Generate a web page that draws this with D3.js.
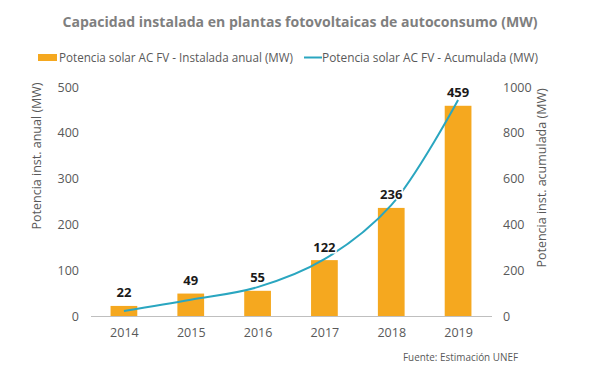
<!DOCTYPE html>
<html><head><meta charset="utf-8">
<script src="https://cdn.jsdelivr.net/npm/d3@7"></script>
<style>body{margin:0;background:#fff;} svg{display:block;font-family:"Open Sans",sans-serif;}</style>
</head><body><svg id="c" width="600" height="379"></svg>
<script>
const years = ["2014","2015","2016","2017","2018","2019"];
const annual = [22, 49, 55, 122, 236, 459];
const cumulative = [22, 71, 126, 248, 484, 943];
const leftTicks = [0,100,200,300,400,500];
const rightTicks = [0,200,400,600,800,1000];
const title = "Capacidad instalada en plantas fotovoltaicas de autoconsumo (MW)";
const legendBar = "Potencia solar AC FV - Instalada anual (MW)";
const legendLine = "Potencia solar AC FV - Acumulada (MW)";
const leftTitle = "Potencia inst. anual (MW)";
const rightTitle = "Potencia inst. acumulada (MW)";
const source = "Fuente: Estimación UNEF";

const barColor = "#F5A81F", lineColor = "#2AA6C0", txt = "#595959";
const svg = d3.select("#c");
const x = d3.scaleBand().domain(years).range([90.5, 491.5]).paddingInner(0.6).paddingOuter(0.3);
const xc = d3.scalePoint().domain(years).range([90.5, 491.5]).padding(0.5);
const yL = d3.scaleLinear().domain([0,500]).range([316, 87]);
const yR = d3.scaleLinear().domain([0,1000]).range([316, 87]);

function fit(sel, w){ const n = sel.node(); const l = n.getComputedTextLength(); if(l>0) sel.attr("textLength", w).attr("lengthAdjust","spacingAndGlyphs"); }

// title
const t = svg.append("text").attr("x",300).attr("y",27).attr("text-anchor","middle")
  .attr("font-weight","bold").attr("font-size",14.5).attr("fill","#7F7F7F").text(title);
fit(t, 475);

// legend
svg.append("rect").attr("x",38).attr("y",54).attr("width",19).attr("height",7).attr("fill",barColor);
const l1 = svg.append("text").attr("x",59).attr("y",61.5).attr("font-size",11.8).attr("fill",txt).text(legendBar);
fit(l1, 234);
svg.append("line").attr("x1",304).attr("x2",322).attr("y1",57.5).attr("y2",57.5).attr("stroke",lineColor).attr("stroke-width",2);
const l2 = svg.append("text").attr("x",322).attr("y",61.5).attr("font-size",11.8).attr("fill",txt).text(legendLine);
fit(l2, 216);

// axes
const gL = svg.append("g").attr("transform","translate(79,0)")
  .call(d3.axisLeft(yL).tickValues(leftTicks).tickFormat(d3.format("d")).tickSize(0).tickPadding(0));
const gR = svg.append("g").attr("transform","translate(503,0)")
  .call(d3.axisRight(yR).tickValues(rightTicks).tickFormat(d3.format("d")).tickSize(0).tickPadding(0));
[gL,gR].forEach(g=>{ g.select(".domain").remove(); g.selectAll("text").attr("font-size",12.5).attr("fill",txt).attr("font-family","Open Sans"); });

const gX = svg.append("g").attr("transform","translate(0,316)")
  .call(d3.axisBottom(xc).tickSize(0).tickPadding(12));
gX.select(".domain").attr("stroke","#BFBFBF");
gX.selectAll("text").attr("font-size",12.5).attr("fill",txt).attr("font-family","Open Sans");

// axis titles
svg.append("text").attr("transform","translate(41,156) rotate(-90)").attr("text-anchor","middle")
  .attr("font-size",12.5).attr("fill",txt).text(leftTitle);
svg.append("text").attr("transform","translate(546,178) rotate(-90)").attr("text-anchor","middle")
  .attr("font-size",12.5).attr("fill",txt).text(rightTitle);

// bars
svg.append("g").selectAll("rect").data(years).join("rect")
  .attr("x",d=>x(d)).attr("width",x.bandwidth())
  .attr("y",(d,i)=>yL(annual[i])).attr("height",(d,i)=>yL(0)-yL(annual[i]))
  .attr("fill",barColor);

// line
const line = d3.line().x((d,i)=>xc(years[i])).y(d=>yR(d)).curve(d3.curveCatmullRom.alpha(0.5));
svg.append("path").datum(cumulative).attr("d",line).attr("fill","none")
  .attr("stroke",lineColor).attr("stroke-width",2);

// labels
svg.append("g").selectAll("text").data(years).join("text")
  .attr("x",d=>xc(d)).attr("y",(d,i)=>yL(annual[i])-8.5).attr("text-anchor","middle")
  .attr("font-weight","bold").attr("font-size",13).attr("fill","#1a1a1a")
  .attr("stroke","#fff").attr("stroke-width",3).attr("paint-order","stroke")
  .text((d,i)=>annual[i]);

// source
const s = svg.append("text").attr("x",403).attr("y",361).attr("font-size",10.5).attr("fill",txt).text(source);
fit(s, 115);
</script></body></html>
